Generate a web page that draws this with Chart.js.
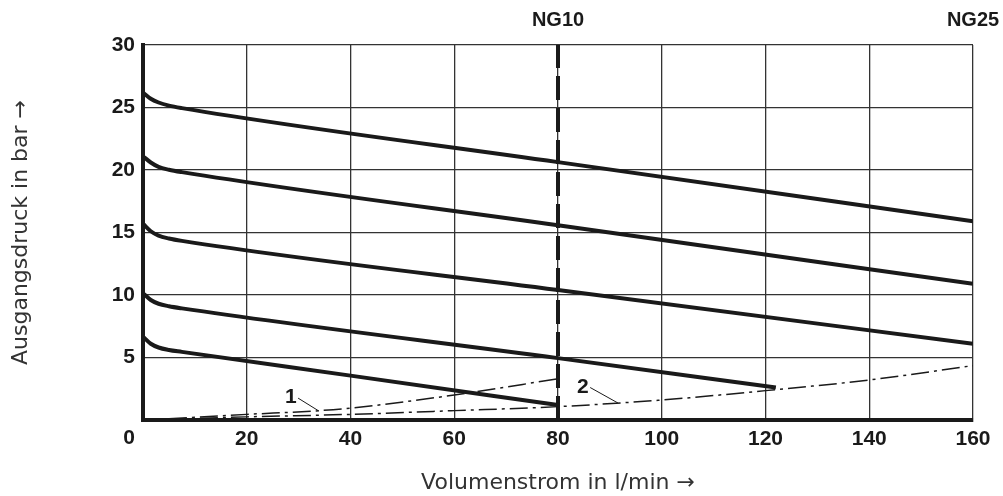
<!DOCTYPE html>
<html>
<head>
<meta charset="utf-8">
<script src="https://cdn.jsdelivr.net/npm/chart.js@4/dist/chart.umd.min.js"></script>
<style>
  html, body { margin: 0; padding: 0; background: #fff; }
  #chartBox { width: 1003px; height: 496px; }
</style>
</head>
<body>
<div id="chartBox"><canvas id="PressureChart" width="1003" height="496"></canvas></div>
<script>
// x ticks (l/min) and y ticks (bar)
var flowTicks = [0, 20, 40, 60, 80, 100, 120, 140, 160];
var pressTicks = [0, 5, 10, 15, 20, 25, 30];

// solid characteristic curves
var flowA = [0, 1.5, 3, 5, 7.5, 80, 160];
var pressA = [26.2, 25.7, 25.4, 25.15, 24.95, 20.63, 15.9];
var flowB = [0, 1.5, 3, 5, 7.5, 80, 160];
var pressB = [21.1, 20.6, 20.25, 20.02, 19.83, 15.58, 10.9];
var flowC = [0, 1.5, 3, 5, 7.5, 80, 160];
var pressC = [15.7, 15.1, 14.75, 14.52, 14.33, 10.4, 6.1];
var flowD = [0, 1.5, 3, 5, 7.5, 80, 122];
var pressD = [10.15, 9.6, 9.3, 9.1, 8.93, 4.95, 2.6];
var flowE = [0, 1.5, 3, 5, 7.5, 40, 80];
var pressE = [6.67, 6.1, 5.8, 5.6, 5.45, 3.55, 1.2];

// dash-dot curves 1 and 2
var flow1 = [5, 20, 33, 40, 60, 80];
var press1 = [0.1, 0.45, 0.72, 0.95, 2.0, 3.3];
var flow2 = [5, 20, 40, 60, 80, 100, 120, 140, 160];
var press2 = [0.05, 0.25, 0.45, 0.75, 1.07, 1.6, 2.35, 3.2, 4.35];

// NG10 limit line and size labels
var limitFlow = 80;
var sizeLabels = ['NG10', 'NG25'];
var sizeFlow = [80, 160];

// callouts: text, label position, leader start, leader end (data units)
var calloutText = ['1', '2'];
var calloutPos = [[28.5, 1.85], [84.8, 2.65]];
var leaderFrom = [[29.9, 1.75], [86.2, 2.6]];
var leaderTo = [[33.9, 0.72], [91.6, 1.35]];

var ink = '#1a1a1a';
var tickFont = { family: 'Liberation Sans', size: 21, weight: 'bold' };
var titleFont = { family: 'DejaVu Sans', size: 22 };

function pts(xs, ys) {
    return xs.map(function (x, i) { return { x: x, y: ys[i] }; });
}

function solid(xs, ys) {
    return {
        data: pts(xs, ys), borderColor: ink, borderWidth: 4, pointRadius: 0,
        cubicInterpolationMode: 'monotone', fill: false
    };
}

function dashDot(xs, ys) {
    return {
        data: pts(xs, ys), borderColor: ink, borderWidth: 1.5, pointRadius: 0,
        borderDash: [18, 5, 3, 5], cubicInterpolationMode: 'monotone', fill: false
    };
}

var extras = {
    id: 'extras',
    afterDraw: function (chart) {
        var c = chart.ctx, xs = chart.scales.x, ys = chart.scales.y;
        c.save();
        c.fillStyle = ink;
        c.font = 'bold 21px "Liberation Sans"';

        // shared origin label
        c.textAlign = 'right';
        c.textBaseline = 'middle';
        c.fillText('0', xs.getPixelForValue(0) - 8, ys.getPixelForValue(0) + 18);

        // size labels on top
        c.textAlign = 'center';
        c.font = 'bold 20px "Liberation Sans"';
        sizeLabels.forEach(function (t, i) {
            c.fillText(t, xs.getPixelForValue(sizeFlow[i]), 20);
        });

        // callouts
        c.font = 'bold 21px "Liberation Sans"';
        c.strokeStyle = ink;
        c.lineWidth = 1;
        calloutText.forEach(function (t, i) {
            c.fillText(t, xs.getPixelForValue(calloutPos[i][0]), ys.getPixelForValue(calloutPos[i][1]));
            c.beginPath();
            c.moveTo(xs.getPixelForValue(leaderFrom[i][0]), ys.getPixelForValue(leaderFrom[i][1]));
            c.lineTo(xs.getPixelForValue(leaderTo[i][0]), ys.getPixelForValue(leaderTo[i][1]));
            c.stroke();
        });
        c.restore();
    }
};

var ctx = document.getElementById('PressureChart').getContext('2d');
var myChart = new Chart(ctx, {
    type: 'line',
    data: {
        datasets: [
            solid(flowA, pressA),
            solid(flowB, pressB),
            solid(flowC, pressC),
            solid(flowD, pressD),
            solid(flowE, pressE),
            dashDot(flow1, press1),
            dashDot(flow2, press2),
            {
                data: [{ x: limitFlow, y: 0 }, { x: limitFlow, y: 30 }],
                borderColor: ink, borderWidth: 4, pointRadius: 0, borderDash: [24, 8]
            }
        ]
    },
    options: {
        responsive: false,
        animation: false,
        devicePixelRatio: 1,
        layout: { padding: { left: 0, top: 45, right: 30, bottom: 0 } },
        plugins: { legend: { display: false }, tooltip: { enabled: false } },
        scales: {
            x: {
                type: 'linear', min: 0, max: 160,
                afterBuildTicks: function (s) { s.ticks = flowTicks.map(function (v) { return { value: v }; }); },
                afterFit: function (s) { s.height = 76; },
                grid: { color: '#333', lineWidth: 1.3, drawTicks: false },
                border: { color: ink, width: 4 },
                ticks: {
                    color: ink, font: tickFont, padding: 7, maxRotation: 0,
                    callback: function (v) { return v === 0 ? '' : v; }
                },
                title: {
                    display: true, text: 'Volumenstrom in l/min \u2192', color: '#333',
                    font: titleFont, padding: { top: 0, bottom: 0 }
                }
            },
            y: {
                type: 'linear', min: 0, max: 30,
                afterBuildTicks: function (s) { s.ticks = pressTicks.map(function (v) { return { value: v }; }); },
                afterFit: function (s) { s.width = 143; },
                grid: { color: '#333', lineWidth: 1.3, drawTicks: false },
                border: { color: ink, width: 4 },
                ticks: {
                    color: ink, font: tickFont, padding: 8,
                    callback: function (v) { return v === 0 ? '' : v; }
                },
                title: {
                    display: true, text: 'Ausgangsdruck in bar \u2192', color: '#333',
                    font: titleFont, padding: { top: 8, bottom: 0 }
                }
            }
        }
    },
    plugins: [extras]
});
</script>
</body>
</html>
